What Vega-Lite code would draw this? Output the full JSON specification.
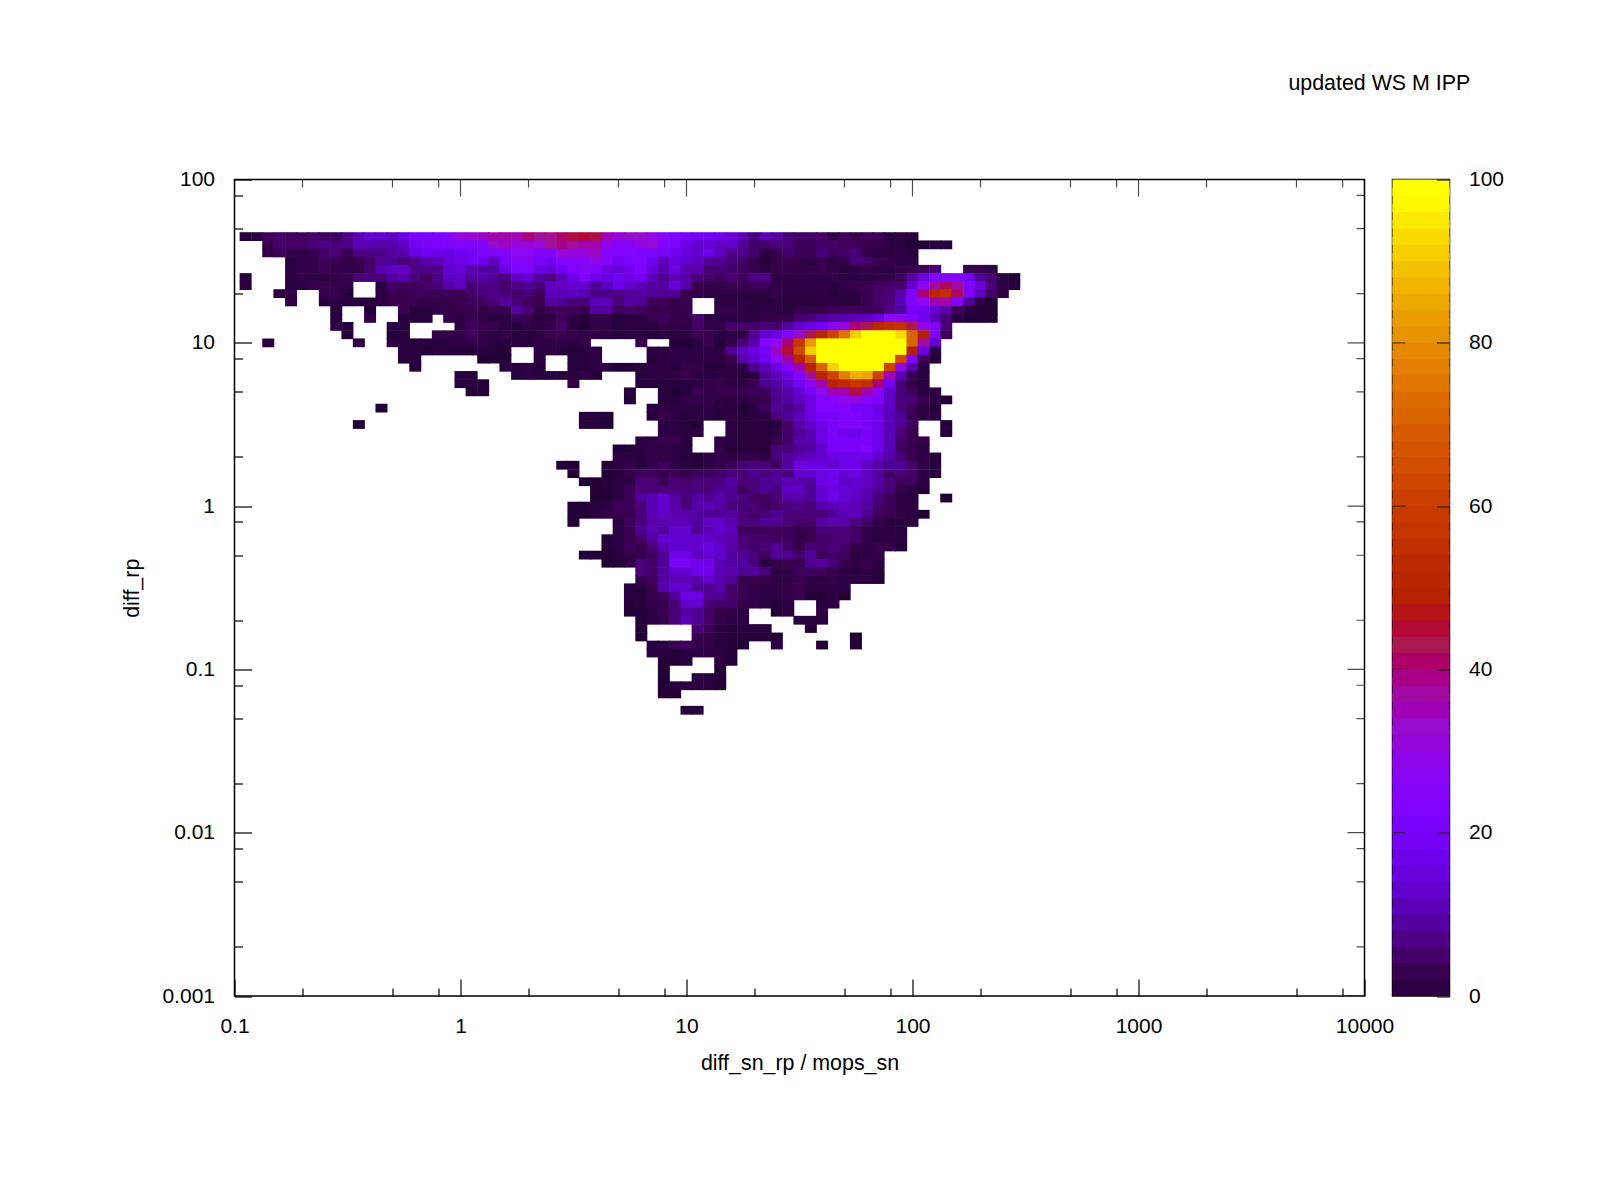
{"$schema":"https://vega.github.io/schema/vega-lite/v6.json","background":"white","padding":{"left":120.5,"top":72.5,"right":20,"bottom":20},"bounds":"flush","title":{"text":"updated WS M IPP","font":"Liberation Sans","fontSize":21.4,"fontWeight":"normal","color":"black","anchor":"end","dx":-34,"offset":73},"datasets":{"cells":[
{"x":0.112,"y":44.7,"v":2},{"x":0.126,"y":44.7,"v":3},{"x":0.141,"y":44.7,"v":6},{"x":0.158,"y":44.7,"v":7},{"x":0.178,"y":44.7,"v":6},{"x":0.2,"y":44.7,"v":6},{"x":0.224,"y":44.7,"v":7},{"x":0.251,"y":44.7,"v":6},{"x":0.282,"y":44.7,"v":6},{"x":0.316,"y":44.7,"v":9},{"x":0.355,"y":44.7,"v":13},{"x":0.398,"y":44.7,"v":15},{"x":0.447,"y":44.7,"v":15},{"x":0.501,"y":44.7,"v":14},{"x":0.562,"y":44.7,"v":18},{"x":0.631,"y":44.7,"v":23},{"x":0.708,"y":44.7,"v":23},{"x":0.794,"y":44.7,"v":23},{"x":0.891,"y":44.7,"v":26},{"x":1,"y":44.7,"v":33},{"x":1.12,"y":44.7,"v":34},{"x":1.26,"y":44.7,"v":36},{"x":1.41,"y":44.7,"v":38},{"x":1.58,"y":44.7,"v":38},{"x":1.78,"y":44.7,"v":37},{"x":2,"y":44.7,"v":42},{"x":2.24,"y":44.7,"v":40},{"x":2.51,"y":44.7,"v":40},{"x":2.82,"y":44.7,"v":43},{"x":3.16,"y":44.7,"v":46},{"x":3.55,"y":44.7,"v":47},{"x":3.98,"y":44.7,"v":46},{"x":4.47,"y":44.7,"v":37},{"x":5.01,"y":44.7,"v":33},{"x":5.62,"y":44.7,"v":35},{"x":6.31,"y":44.7,"v":35},{"x":7.08,"y":44.7,"v":32},{"x":7.94,"y":44.7,"v":28},{"x":8.91,"y":44.7,"v":24},{"x":10,"y":44.7,"v":22},{"x":11.2,"y":44.7,"v":21},{"x":12.6,"y":44.7,"v":21},{"x":14.1,"y":44.7,"v":19},{"x":15.8,"y":44.7,"v":17},{"x":17.8,"y":44.7,"v":13},{"x":20,"y":44.7,"v":8},{"x":22.4,"y":44.7,"v":13},{"x":25.1,"y":44.7,"v":11},{"x":28.2,"y":44.7,"v":8},{"x":31.6,"y":44.7,"v":7},{"x":35.5,"y":44.7,"v":7},{"x":39.8,"y":44.7,"v":7},{"x":44.7,"y":44.7,"v":4},{"x":50.1,"y":44.7,"v":6},{"x":56.2,"y":44.7,"v":5},{"x":63.1,"y":44.7,"v":6},{"x":70.8,"y":44.7,"v":6},{"x":79.4,"y":44.7,"v":3},{"x":89.1,"y":44.7,"v":3},{"x":100,"y":44.7,"v":2},
{"x":0.141,"y":39.8,"v":5},{"x":0.158,"y":39.8,"v":7},{"x":0.178,"y":39.8,"v":7},{"x":0.2,"y":39.8,"v":7},{"x":0.224,"y":39.8,"v":8},{"x":0.251,"y":39.8,"v":9},{"x":0.282,"y":39.8,"v":8},{"x":0.316,"y":39.8,"v":9},{"x":0.355,"y":39.8,"v":13},{"x":0.398,"y":39.8,"v":13},{"x":0.447,"y":39.8,"v":12},{"x":0.501,"y":39.8,"v":12},{"x":0.562,"y":39.8,"v":14},{"x":0.631,"y":39.8,"v":20},{"x":0.708,"y":39.8,"v":23},{"x":0.794,"y":39.8,"v":24},{"x":0.891,"y":39.8,"v":24},{"x":1,"y":39.8,"v":25},{"x":1.12,"y":39.8,"v":25},{"x":1.26,"y":39.8,"v":25},{"x":1.41,"y":39.8,"v":35},{"x":1.58,"y":39.8,"v":36},{"x":1.78,"y":39.8,"v":33},{"x":2,"y":39.8,"v":33},{"x":2.24,"y":39.8,"v":34},{"x":2.51,"y":39.8,"v":40},{"x":2.82,"y":39.8,"v":41},{"x":3.16,"y":39.8,"v":40},{"x":3.55,"y":39.8,"v":38},{"x":3.98,"y":39.8,"v":38},{"x":4.47,"y":39.8,"v":31},{"x":5.01,"y":39.8,"v":26},{"x":5.62,"y":39.8,"v":26},{"x":6.31,"y":39.8,"v":32},{"x":7.08,"y":39.8,"v":34},{"x":7.94,"y":39.8,"v":26},{"x":8.91,"y":39.8,"v":24},{"x":10,"y":39.8,"v":18},{"x":11.2,"y":39.8,"v":15},{"x":12.6,"y":39.8,"v":16},{"x":14.1,"y":39.8,"v":14},{"x":15.8,"y":39.8,"v":15},{"x":17.8,"y":39.8,"v":10},{"x":20,"y":39.8,"v":7},{"x":22.4,"y":39.8,"v":7},{"x":25.1,"y":39.8,"v":8},{"x":28.2,"y":39.8,"v":8},{"x":31.6,"y":39.8,"v":6},{"x":35.5,"y":39.8,"v":6},{"x":39.8,"y":39.8,"v":7},{"x":44.7,"y":39.8,"v":7},{"x":50.1,"y":39.8,"v":6},{"x":56.2,"y":39.8,"v":6},{"x":63.1,"y":39.8,"v":5},{"x":70.8,"y":39.8,"v":5},{"x":79.4,"y":39.8,"v":3},{"x":89.1,"y":39.8,"v":2},{"x":100,"y":39.8,"v":1},{"x":112,"y":39.8,"v":1},{"x":126,"y":39.8,"v":2},{"x":141,"y":39.8,"v":2},
{"x":0.141,"y":35.5,"v":4},{"x":0.158,"y":35.5,"v":5},{"x":0.178,"y":35.5,"v":5},{"x":0.2,"y":35.5,"v":4},{"x":0.224,"y":35.5,"v":5},{"x":0.251,"y":35.5,"v":7},{"x":0.282,"y":35.5,"v":8},{"x":0.316,"y":35.5,"v":5},{"x":0.355,"y":35.5,"v":9},{"x":0.398,"y":35.5,"v":9},{"x":0.447,"y":35.5,"v":9},{"x":0.501,"y":35.5,"v":11},{"x":0.562,"y":35.5,"v":12},{"x":0.631,"y":35.5,"v":18},{"x":0.708,"y":35.5,"v":20},{"x":0.794,"y":35.5,"v":19},{"x":0.891,"y":35.5,"v":18},{"x":1,"y":35.5,"v":20},{"x":1.12,"y":35.5,"v":21},{"x":1.26,"y":35.5,"v":24},{"x":1.41,"y":35.5,"v":24},{"x":1.58,"y":35.5,"v":25},{"x":1.78,"y":35.5,"v":30},{"x":2,"y":35.5,"v":30},{"x":2.24,"y":35.5,"v":25},{"x":2.51,"y":35.5,"v":26},{"x":2.82,"y":35.5,"v":34},{"x":3.16,"y":35.5,"v":33},{"x":3.55,"y":35.5,"v":33},{"x":3.98,"y":35.5,"v":36},{"x":4.47,"y":35.5,"v":26},{"x":5.01,"y":35.5,"v":25},{"x":5.62,"y":35.5,"v":25},{"x":6.31,"y":35.5,"v":24},{"x":7.08,"y":35.5,"v":24},{"x":7.94,"y":35.5,"v":22},{"x":8.91,"y":35.5,"v":20},{"x":10,"y":35.5,"v":17},{"x":11.2,"y":35.5,"v":15},{"x":12.6,"y":35.5,"v":18},{"x":14.1,"y":35.5,"v":14},{"x":15.8,"y":35.5,"v":9},{"x":17.8,"y":35.5,"v":9},{"x":20,"y":35.5,"v":7},{"x":22.4,"y":35.5,"v":3},{"x":25.1,"y":35.5,"v":5},{"x":28.2,"y":35.5,"v":7},{"x":31.6,"y":35.5,"v":6},{"x":35.5,"y":35.5,"v":6},{"x":39.8,"y":35.5,"v":8},{"x":44.7,"y":35.5,"v":6},{"x":50.1,"y":35.5,"v":7},{"x":56.2,"y":35.5,"v":8},{"x":63.1,"y":35.5,"v":4},{"x":70.8,"y":35.5,"v":3},{"x":79.4,"y":35.5,"v":3},{"x":89.1,"y":35.5,"v":3},{"x":100,"y":35.5,"v":2},
{"x":0.178,"y":31.6,"v":3},{"x":0.2,"y":31.6,"v":4},{"x":0.224,"y":31.6,"v":4},{"x":0.251,"y":31.6,"v":6},{"x":0.282,"y":31.6,"v":5},{"x":0.316,"y":31.6,"v":4},{"x":0.355,"y":31.6,"v":5},{"x":0.398,"y":31.6,"v":7},{"x":0.447,"y":31.6,"v":10},{"x":0.501,"y":31.6,"v":10},{"x":0.562,"y":31.6,"v":8},{"x":0.631,"y":31.6,"v":9},{"x":0.708,"y":31.6,"v":12},{"x":0.794,"y":31.6,"v":13},{"x":0.891,"y":31.6,"v":16},{"x":1,"y":31.6,"v":18},{"x":1.12,"y":31.6,"v":20},{"x":1.26,"y":31.6,"v":20},{"x":1.41,"y":31.6,"v":13},{"x":1.58,"y":31.6,"v":22},{"x":1.78,"y":31.6,"v":27},{"x":2,"y":31.6,"v":27},{"x":2.24,"y":31.6,"v":23},{"x":2.51,"y":31.6,"v":20},{"x":2.82,"y":31.6,"v":26},{"x":3.16,"y":31.6,"v":27},{"x":3.55,"y":31.6,"v":27},{"x":3.98,"y":31.6,"v":31},{"x":4.47,"y":31.6,"v":27},{"x":5.01,"y":31.6,"v":21},{"x":5.62,"y":31.6,"v":24},{"x":6.31,"y":31.6,"v":25},{"x":7.08,"y":31.6,"v":19},{"x":7.94,"y":31.6,"v":14},{"x":8.91,"y":31.6,"v":17},{"x":10,"y":31.6,"v":15},{"x":11.2,"y":31.6,"v":14},{"x":12.6,"y":31.6,"v":10},{"x":14.1,"y":31.6,"v":10},{"x":15.8,"y":31.6,"v":8},{"x":17.8,"y":31.6,"v":7},{"x":20,"y":31.6,"v":4},{"x":22.4,"y":31.6,"v":2},{"x":25.1,"y":31.6,"v":4},{"x":28.2,"y":31.6,"v":5},{"x":31.6,"y":31.6,"v":4},{"x":35.5,"y":31.6,"v":3},{"x":39.8,"y":31.6,"v":5},{"x":44.7,"y":31.6,"v":3},{"x":50.1,"y":31.6,"v":4},{"x":56.2,"y":31.6,"v":8},{"x":63.1,"y":31.6,"v":7},{"x":70.8,"y":31.6,"v":5},{"x":79.4,"y":31.6,"v":4},{"x":89.1,"y":31.6,"v":3},{"x":100,"y":31.6,"v":3},
{"x":0.178,"y":28.2,"v":3},{"x":0.2,"y":28.2,"v":4},{"x":0.224,"y":28.2,"v":4},{"x":0.251,"y":28.2,"v":6},{"x":0.282,"y":28.2,"v":4},{"x":0.316,"y":28.2,"v":4},{"x":0.355,"y":28.2,"v":4},{"x":0.398,"y":28.2,"v":7},{"x":0.447,"y":28.2,"v":12},{"x":0.501,"y":28.2,"v":14},{"x":0.562,"y":28.2,"v":14},{"x":0.631,"y":28.2,"v":9},{"x":0.708,"y":28.2,"v":9},{"x":0.794,"y":28.2,"v":9},{"x":0.891,"y":28.2,"v":15},{"x":1,"y":28.2,"v":17},{"x":1.12,"y":28.2,"v":12},{"x":1.26,"y":28.2,"v":11},{"x":1.41,"y":28.2,"v":11},{"x":1.58,"y":28.2,"v":18},{"x":1.78,"y":28.2,"v":24},{"x":2,"y":28.2,"v":26},{"x":2.24,"y":28.2,"v":18},{"x":2.51,"y":28.2,"v":16},{"x":2.82,"y":28.2,"v":20},{"x":3.16,"y":28.2,"v":25},{"x":3.55,"y":28.2,"v":27},{"x":3.98,"y":28.2,"v":25},{"x":4.47,"y":28.2,"v":18},{"x":5.01,"y":28.2,"v":16},{"x":5.62,"y":28.2,"v":19},{"x":6.31,"y":28.2,"v":24},{"x":7.08,"y":28.2,"v":17},{"x":7.94,"y":28.2,"v":12},{"x":8.91,"y":28.2,"v":18},{"x":10,"y":28.2,"v":12},{"x":11.2,"y":28.2,"v":12},{"x":12.6,"y":28.2,"v":8},{"x":14.1,"y":28.2,"v":8},{"x":15.8,"y":28.2,"v":7},{"x":17.8,"y":28.2,"v":6},{"x":20,"y":28.2,"v":5},{"x":22.4,"y":28.2,"v":3},{"x":25.1,"y":28.2,"v":4},{"x":28.2,"y":28.2,"v":4},{"x":31.6,"y":28.2,"v":4},{"x":35.5,"y":28.2,"v":4},{"x":39.8,"y":28.2,"v":5},{"x":44.7,"y":28.2,"v":4},{"x":50.1,"y":28.2,"v":2},{"x":56.2,"y":28.2,"v":3},{"x":63.1,"y":28.2,"v":4},{"x":70.8,"y":28.2,"v":3},{"x":79.4,"y":28.2,"v":3},{"x":89.1,"y":28.2,"v":4},{"x":100,"y":28.2,"v":5},{"x":112,"y":28.2,"v":6},{"x":126,"y":28.2,"v":8},{"x":178,"y":28.2,"v":5},{"x":200,"y":28.2,"v":5},{"x":224,"y":28.2,"v":3},
{"x":0.112,"y":25.1,"v":2},{"x":0.178,"y":25.1,"v":2},{"x":0.2,"y":25.1,"v":4},{"x":0.224,"y":25.1,"v":3},{"x":0.251,"y":25.1,"v":3},{"x":0.282,"y":25.1,"v":4},{"x":0.316,"y":25.1,"v":5},{"x":0.355,"y":25.1,"v":8},{"x":0.398,"y":25.1,"v":8},{"x":0.447,"y":25.1,"v":8},{"x":0.501,"y":25.1,"v":11},{"x":0.562,"y":25.1,"v":12},{"x":0.631,"y":25.1,"v":8},{"x":0.708,"y":25.1,"v":6},{"x":0.794,"y":25.1,"v":9},{"x":0.891,"y":25.1,"v":14},{"x":1,"y":25.1,"v":14},{"x":1.12,"y":25.1,"v":11},{"x":1.26,"y":25.1,"v":12},{"x":1.41,"y":25.1,"v":10},{"x":1.58,"y":25.1,"v":8},{"x":1.78,"y":25.1,"v":14},{"x":2,"y":25.1,"v":16},{"x":2.24,"y":25.1,"v":11},{"x":2.51,"y":25.1,"v":9},{"x":2.82,"y":25.1,"v":13},{"x":3.16,"y":25.1,"v":19},{"x":3.55,"y":25.1,"v":24},{"x":3.98,"y":25.1,"v":19},{"x":4.47,"y":25.1,"v":18},{"x":5.01,"y":25.1,"v":20},{"x":5.62,"y":25.1,"v":18},{"x":6.31,"y":25.1,"v":21},{"x":7.08,"y":25.1,"v":13},{"x":7.94,"y":25.1,"v":10},{"x":8.91,"y":25.1,"v":13},{"x":10,"y":25.1,"v":12},{"x":11.2,"y":25.1,"v":8},{"x":12.6,"y":25.1,"v":7},{"x":14.1,"y":25.1,"v":6},{"x":15.8,"y":25.1,"v":8},{"x":17.8,"y":25.1,"v":6},{"x":20,"y":25.1,"v":9},{"x":22.4,"y":25.1,"v":9},{"x":25.1,"y":25.1,"v":3},{"x":28.2,"y":25.1,"v":3},{"x":31.6,"y":25.1,"v":3},{"x":35.5,"y":25.1,"v":3},{"x":39.8,"y":25.1,"v":3},{"x":44.7,"y":25.1,"v":4},{"x":50.1,"y":25.1,"v":3},{"x":56.2,"y":25.1,"v":3},{"x":63.1,"y":25.1,"v":3},{"x":70.8,"y":25.1,"v":4},{"x":79.4,"y":25.1,"v":4},{"x":89.1,"y":25.1,"v":6},{"x":100,"y":25.1,"v":11},{"x":112,"y":25.1,"v":18},{"x":126,"y":25.1,"v":25},{"x":141,"y":25.1,"v":25},{"x":158,"y":25.1,"v":25},{"x":178,"y":25.1,"v":20},{"x":200,"y":25.1,"v":10},{"x":224,"y":25.1,"v":8},{"x":251,"y":25.1,"v":2},{"x":282,"y":25.1,"v":1},
{"x":0.112,"y":22.4,"v":2},{"x":0.178,"y":22.4,"v":2},{"x":0.2,"y":22.4,"v":3},{"x":0.224,"y":22.4,"v":5},{"x":0.251,"y":22.4,"v":5},{"x":0.282,"y":22.4,"v":5},{"x":0.316,"y":22.4,"v":5},{"x":0.447,"y":22.4,"v":3},{"x":0.501,"y":22.4,"v":7},{"x":0.562,"y":22.4,"v":6},{"x":0.631,"y":22.4,"v":6},{"x":0.708,"y":22.4,"v":7},{"x":0.794,"y":22.4,"v":8},{"x":0.891,"y":22.4,"v":11},{"x":1,"y":22.4,"v":14},{"x":1.12,"y":22.4,"v":8},{"x":1.26,"y":22.4,"v":9},{"x":1.41,"y":22.4,"v":9},{"x":1.58,"y":22.4,"v":7},{"x":1.78,"y":22.4,"v":9},{"x":2,"y":22.4,"v":10},{"x":2.24,"y":22.4,"v":8},{"x":2.51,"y":22.4,"v":14},{"x":2.82,"y":22.4,"v":14},{"x":3.16,"y":22.4,"v":15},{"x":3.55,"y":22.4,"v":15},{"x":3.98,"y":22.4,"v":10},{"x":4.47,"y":22.4,"v":14},{"x":5.01,"y":22.4,"v":19},{"x":5.62,"y":22.4,"v":15},{"x":6.31,"y":22.4,"v":13},{"x":7.08,"y":22.4,"v":11},{"x":7.94,"y":22.4,"v":11},{"x":8.91,"y":22.4,"v":17},{"x":10,"y":22.4,"v":12},{"x":11.2,"y":22.4,"v":5},{"x":12.6,"y":22.4,"v":4},{"x":14.1,"y":22.4,"v":4},{"x":15.8,"y":22.4,"v":5},{"x":17.8,"y":22.4,"v":5},{"x":20,"y":22.4,"v":6},{"x":22.4,"y":22.4,"v":6},{"x":25.1,"y":22.4,"v":4},{"x":28.2,"y":22.4,"v":3},{"x":31.6,"y":22.4,"v":3},{"x":35.5,"y":22.4,"v":3},{"x":39.8,"y":22.4,"v":3},{"x":44.7,"y":22.4,"v":3},{"x":50.1,"y":22.4,"v":4},{"x":56.2,"y":22.4,"v":5},{"x":63.1,"y":22.4,"v":5},{"x":70.8,"y":22.4,"v":6},{"x":79.4,"y":22.4,"v":7},{"x":89.1,"y":22.4,"v":7},{"x":100,"y":22.4,"v":15},{"x":112,"y":22.4,"v":29},{"x":126,"y":22.4,"v":39},{"x":141,"y":22.4,"v":44},{"x":158,"y":22.4,"v":39},{"x":178,"y":22.4,"v":25},{"x":200,"y":22.4,"v":17},{"x":224,"y":22.4,"v":8},{"x":251,"y":22.4,"v":3},{"x":282,"y":22.4,"v":2},
{"x":0.158,"y":20,"v":3},{"x":0.178,"y":20,"v":4},{"x":0.251,"y":20,"v":5},{"x":0.282,"y":20,"v":5},{"x":0.316,"y":20,"v":2},{"x":0.447,"y":20,"v":3},{"x":0.501,"y":20,"v":5},{"x":0.562,"y":20,"v":5},{"x":0.631,"y":20,"v":6},{"x":0.708,"y":20,"v":6},{"x":0.794,"y":20,"v":6},{"x":0.891,"y":20,"v":6},{"x":1,"y":20,"v":5},{"x":1.12,"y":20,"v":7},{"x":1.26,"y":20,"v":8},{"x":1.41,"y":20,"v":9},{"x":1.58,"y":20,"v":8},{"x":1.78,"y":20,"v":7},{"x":2,"y":20,"v":8},{"x":2.24,"y":20,"v":6},{"x":2.51,"y":20,"v":13},{"x":2.82,"y":20,"v":13},{"x":3.16,"y":20,"v":14},{"x":3.55,"y":20,"v":13},{"x":3.98,"y":20,"v":9},{"x":4.47,"y":20,"v":9},{"x":5.01,"y":20,"v":9},{"x":5.62,"y":20,"v":10},{"x":6.31,"y":20,"v":11},{"x":7.08,"y":20,"v":10},{"x":7.94,"y":20,"v":10},{"x":8.91,"y":20,"v":10},{"x":10,"y":20,"v":5},{"x":11.2,"y":20,"v":4},{"x":12.6,"y":20,"v":3},{"x":14.1,"y":20,"v":3},{"x":15.8,"y":20,"v":3},{"x":17.8,"y":20,"v":3},{"x":20,"y":20,"v":3},{"x":22.4,"y":20,"v":3},{"x":25.1,"y":20,"v":4},{"x":28.2,"y":20,"v":3},{"x":31.6,"y":20,"v":2},{"x":35.5,"y":20,"v":3},{"x":39.8,"y":20,"v":3},{"x":44.7,"y":20,"v":2},{"x":50.1,"y":20,"v":3},{"x":56.2,"y":20,"v":3},{"x":63.1,"y":20,"v":5},{"x":70.8,"y":20,"v":7},{"x":79.4,"y":20,"v":8},{"x":89.1,"y":20,"v":12},{"x":100,"y":20,"v":25},{"x":112,"y":20,"v":42},{"x":126,"y":20,"v":53},{"x":141,"y":20,"v":57},{"x":158,"y":20,"v":44},{"x":178,"y":20,"v":25},{"x":200,"y":20,"v":14},{"x":224,"y":20,"v":7},{"x":251,"y":20,"v":3},
{"x":0.178,"y":17.8,"v":3},{"x":0.251,"y":17.8,"v":2},{"x":0.282,"y":17.8,"v":3},{"x":0.316,"y":17.8,"v":2},{"x":0.355,"y":17.8,"v":2},{"x":0.398,"y":17.8,"v":2},{"x":0.447,"y":17.8,"v":3},{"x":0.501,"y":17.8,"v":4},{"x":0.562,"y":17.8,"v":5},{"x":0.631,"y":17.8,"v":5},{"x":0.708,"y":17.8,"v":4},{"x":0.794,"y":17.8,"v":4},{"x":0.891,"y":17.8,"v":4},{"x":1,"y":17.8,"v":5},{"x":1.12,"y":17.8,"v":6},{"x":1.26,"y":17.8,"v":6},{"x":1.41,"y":17.8,"v":8},{"x":1.58,"y":17.8,"v":11},{"x":1.78,"y":17.8,"v":8},{"x":2,"y":17.8,"v":6},{"x":2.24,"y":17.8,"v":5},{"x":2.51,"y":17.8,"v":11},{"x":2.82,"y":17.8,"v":10},{"x":3.16,"y":17.8,"v":8},{"x":3.55,"y":17.8,"v":8},{"x":3.98,"y":17.8,"v":13},{"x":4.47,"y":17.8,"v":13},{"x":5.01,"y":17.8,"v":8},{"x":5.62,"y":17.8,"v":11},{"x":6.31,"y":17.8,"v":10},{"x":7.08,"y":17.8,"v":6},{"x":7.94,"y":17.8,"v":6},{"x":8.91,"y":17.8,"v":4},{"x":10,"y":17.8,"v":5},{"x":14.1,"y":17.8,"v":3},{"x":15.8,"y":17.8,"v":3},{"x":17.8,"y":17.8,"v":3},{"x":20,"y":17.8,"v":2},{"x":22.4,"y":17.8,"v":2},{"x":25.1,"y":17.8,"v":3},{"x":28.2,"y":17.8,"v":2},{"x":31.6,"y":17.8,"v":2},{"x":35.5,"y":17.8,"v":1},{"x":39.8,"y":17.8,"v":3},{"x":44.7,"y":17.8,"v":3},{"x":50.1,"y":17.8,"v":2},{"x":56.2,"y":17.8,"v":2},{"x":63.1,"y":17.8,"v":5},{"x":70.8,"y":17.8,"v":7},{"x":79.4,"y":17.8,"v":8},{"x":89.1,"y":17.8,"v":13},{"x":100,"y":17.8,"v":25},{"x":112,"y":17.8,"v":30},{"x":126,"y":17.8,"v":38},{"x":141,"y":17.8,"v":38},{"x":158,"y":17.8,"v":25},{"x":178,"y":17.8,"v":10},{"x":200,"y":17.8,"v":3},{"x":224,"y":17.8,"v":1},
{"x":0.282,"y":15.8,"v":2},{"x":0.398,"y":15.8,"v":1},{"x":0.562,"y":15.8,"v":5},{"x":0.631,"y":15.8,"v":2},{"x":0.708,"y":15.8,"v":2},{"x":0.794,"y":15.8,"v":4},{"x":0.891,"y":15.8,"v":4},{"x":1,"y":15.8,"v":5},{"x":1.12,"y":15.8,"v":5},{"x":1.26,"y":15.8,"v":4},{"x":1.41,"y":15.8,"v":5},{"x":1.58,"y":15.8,"v":5},{"x":1.78,"y":15.8,"v":11},{"x":2,"y":15.8,"v":8},{"x":2.24,"y":15.8,"v":4},{"x":2.51,"y":15.8,"v":6},{"x":2.82,"y":15.8,"v":6},{"x":3.16,"y":15.8,"v":6},{"x":3.55,"y":15.8,"v":5},{"x":3.98,"y":15.8,"v":11},{"x":4.47,"y":15.8,"v":11},{"x":5.01,"y":15.8,"v":6},{"x":5.62,"y":15.8,"v":7},{"x":6.31,"y":15.8,"v":6},{"x":7.08,"y":15.8,"v":5},{"x":7.94,"y":15.8,"v":5},{"x":8.91,"y":15.8,"v":4},{"x":10,"y":15.8,"v":5},{"x":14.1,"y":15.8,"v":4},{"x":15.8,"y":15.8,"v":4},{"x":17.8,"y":15.8,"v":3},{"x":20,"y":15.8,"v":2},{"x":22.4,"y":15.8,"v":3},{"x":25.1,"y":15.8,"v":3},{"x":28.2,"y":15.8,"v":2},{"x":31.6,"y":15.8,"v":5},{"x":35.5,"y":15.8,"v":4},{"x":39.8,"y":15.8,"v":4},{"x":44.7,"y":15.8,"v":6},{"x":50.1,"y":15.8,"v":6},{"x":56.2,"y":15.8,"v":6},{"x":63.1,"y":15.8,"v":6},{"x":70.8,"y":15.8,"v":6},{"x":79.4,"y":15.8,"v":9},{"x":89.1,"y":15.8,"v":11},{"x":100,"y":15.8,"v":22},{"x":112,"y":15.8,"v":20},{"x":126,"y":15.8,"v":16},{"x":141,"y":15.8,"v":12},{"x":158,"y":15.8,"v":6},{"x":178,"y":15.8,"v":3},{"x":200,"y":15.8,"v":1},{"x":224,"y":15.8,"v":0.5},
{"x":0.282,"y":14.1,"v":2},{"x":0.398,"y":14.1,"v":4},{"x":0.562,"y":14.1,"v":2},{"x":0.631,"y":14.1,"v":2},{"x":0.708,"y":14.1,"v":2},{"x":0.891,"y":14.1,"v":4},{"x":1,"y":14.1,"v":3},{"x":1.12,"y":14.1,"v":5},{"x":1.26,"y":14.1,"v":4},{"x":1.41,"y":14.1,"v":3},{"x":1.58,"y":14.1,"v":3},{"x":1.78,"y":14.1,"v":6},{"x":2,"y":14.1,"v":5},{"x":2.24,"y":14.1,"v":3},{"x":2.51,"y":14.1,"v":3},{"x":2.82,"y":14.1,"v":6},{"x":3.16,"y":14.1,"v":3},{"x":3.55,"y":14.1,"v":2},{"x":3.98,"y":14.1,"v":4},{"x":4.47,"y":14.1,"v":4},{"x":5.01,"y":14.1,"v":2},{"x":5.62,"y":14.1,"v":2},{"x":6.31,"y":14.1,"v":3},{"x":7.08,"y":14.1,"v":5},{"x":7.94,"y":14.1,"v":6},{"x":8.91,"y":14.1,"v":4},{"x":10,"y":14.1,"v":4},{"x":11.2,"y":14.1,"v":7},{"x":12.6,"y":14.1,"v":3},{"x":14.1,"y":14.1,"v":3},{"x":15.8,"y":14.1,"v":3},{"x":17.8,"y":14.1,"v":3},{"x":20,"y":14.1,"v":3},{"x":22.4,"y":14.1,"v":4},{"x":25.1,"y":14.1,"v":4},{"x":28.2,"y":14.1,"v":4},{"x":31.6,"y":14.1,"v":7},{"x":35.5,"y":14.1,"v":8},{"x":39.8,"y":14.1,"v":10},{"x":44.7,"y":14.1,"v":11},{"x":50.1,"y":14.1,"v":12},{"x":56.2,"y":14.1,"v":13},{"x":63.1,"y":14.1,"v":14},{"x":70.8,"y":14.1,"v":18},{"x":79.4,"y":14.1,"v":30},{"x":89.1,"y":14.1,"v":30},{"x":100,"y":14.1,"v":25},{"x":112,"y":14.1,"v":20},{"x":126,"y":14.1,"v":13},{"x":141,"y":14.1,"v":8},{"x":158,"y":14.1,"v":3},{"x":178,"y":14.1,"v":1},{"x":200,"y":14.1,"v":1},{"x":224,"y":14.1,"v":0.5},
{"x":0.282,"y":12.6,"v":3},{"x":0.316,"y":12.6,"v":2},{"x":0.501,"y":12.6,"v":3},{"x":0.562,"y":12.6,"v":2},{"x":1,"y":12.6,"v":3},{"x":1.12,"y":12.6,"v":6},{"x":1.26,"y":12.6,"v":5},{"x":1.41,"y":12.6,"v":5},{"x":1.58,"y":12.6,"v":3},{"x":1.78,"y":12.6,"v":2},{"x":2,"y":12.6,"v":4},{"x":2.24,"y":12.6,"v":3},{"x":2.51,"y":12.6,"v":5},{"x":2.82,"y":12.6,"v":7},{"x":3.16,"y":12.6,"v":3},{"x":3.55,"y":12.6,"v":1},{"x":3.98,"y":12.6,"v":4},{"x":4.47,"y":12.6,"v":4},{"x":5.01,"y":12.6,"v":2},{"x":5.62,"y":12.6,"v":3},{"x":6.31,"y":12.6,"v":3},{"x":7.08,"y":12.6,"v":2},{"x":7.94,"y":12.6,"v":4},{"x":8.91,"y":12.6,"v":4},{"x":10,"y":12.6,"v":3},{"x":11.2,"y":12.6,"v":7},{"x":12.6,"y":12.6,"v":4},{"x":14.1,"y":12.6,"v":4},{"x":15.8,"y":12.6,"v":7},{"x":17.8,"y":12.6,"v":7},{"x":20,"y":12.6,"v":7},{"x":22.4,"y":12.6,"v":8},{"x":25.1,"y":12.6,"v":7},{"x":28.2,"y":12.6,"v":11},{"x":31.6,"y":12.6,"v":15},{"x":35.5,"y":12.6,"v":18},{"x":39.8,"y":12.6,"v":21},{"x":44.7,"y":12.6,"v":29},{"x":50.1,"y":12.6,"v":33},{"x":56.2,"y":12.6,"v":42},{"x":63.1,"y":12.6,"v":45},{"x":70.8,"y":12.6,"v":54},{"x":79.4,"y":12.6,"v":57},{"x":89.1,"y":12.6,"v":57},{"x":100,"y":12.6,"v":45},{"x":112,"y":12.6,"v":32},{"x":126,"y":12.6,"v":25},{"x":141,"y":12.6,"v":8},
{"x":0.316,"y":11.2,"v":2},{"x":0.501,"y":11.2,"v":2},{"x":0.562,"y":11.2,"v":2},{"x":0.794,"y":11.2,"v":4},{"x":0.891,"y":11.2,"v":4},{"x":1,"y":11.2,"v":4},{"x":1.12,"y":11.2,"v":6},{"x":1.26,"y":11.2,"v":4},{"x":1.41,"y":11.2,"v":3},{"x":1.58,"y":11.2,"v":4},{"x":1.78,"y":11.2,"v":2},{"x":2,"y":11.2,"v":2},{"x":2.24,"y":11.2,"v":3},{"x":2.51,"y":11.2,"v":5},{"x":2.82,"y":11.2,"v":5},{"x":3.16,"y":11.2,"v":4},{"x":3.55,"y":11.2,"v":4},{"x":3.98,"y":11.2,"v":3},{"x":4.47,"y":11.2,"v":3},{"x":5.01,"y":11.2,"v":2},{"x":5.62,"y":11.2,"v":3},{"x":6.31,"y":11.2,"v":3},{"x":7.08,"y":11.2,"v":2},{"x":7.94,"y":11.2,"v":3},{"x":8.91,"y":11.2,"v":2},{"x":10,"y":11.2,"v":3},{"x":11.2,"y":11.2,"v":5},{"x":12.6,"y":11.2,"v":5},{"x":14.1,"y":11.2,"v":3},{"x":15.8,"y":11.2,"v":3},{"x":17.8,"y":11.2,"v":3},{"x":20,"y":11.2,"v":10},{"x":22.4,"y":11.2,"v":15},{"x":25.1,"y":11.2,"v":18},{"x":28.2,"y":11.2,"v":25},{"x":31.6,"y":11.2,"v":35},{"x":35.5,"y":11.2,"v":45},{"x":39.8,"y":11.2,"v":54},{"x":44.7,"y":11.2,"v":64},{"x":50.1,"y":11.2,"v":76},{"x":56.2,"y":11.2,"v":93},{"x":63.1,"y":11.2,"v":100},{"x":70.8,"y":11.2,"v":100},{"x":79.4,"y":11.2,"v":100},{"x":89.1,"y":11.2,"v":95},{"x":100,"y":11.2,"v":73},{"x":112,"y":11.2,"v":50},{"x":126,"y":11.2,"v":25},{"x":141,"y":11.2,"v":6},
{"x":0.141,"y":10,"v":2},{"x":0.355,"y":10,"v":3},{"x":0.501,"y":10,"v":3},{"x":0.562,"y":10,"v":2},{"x":0.631,"y":10,"v":2},{"x":0.708,"y":10,"v":3},{"x":0.794,"y":10,"v":2},{"x":0.891,"y":10,"v":3},{"x":1,"y":10,"v":3},{"x":1.12,"y":10,"v":4},{"x":1.26,"y":10,"v":4},{"x":1.41,"y":10,"v":2},{"x":1.58,"y":10,"v":2},{"x":1.78,"y":10,"v":2},{"x":2,"y":10,"v":2},{"x":2.24,"y":10,"v":3},{"x":2.51,"y":10,"v":4},{"x":2.82,"y":10,"v":4},{"x":3.16,"y":10,"v":3},{"x":3.55,"y":10,"v":4},{"x":6.31,"y":10,"v":5},{"x":8.91,"y":10,"v":2},{"x":10,"y":10,"v":1},{"x":11.2,"y":10,"v":3},{"x":12.6,"y":10,"v":5},{"x":14.1,"y":10,"v":2},{"x":15.8,"y":10,"v":4},{"x":17.8,"y":10,"v":8},{"x":20,"y":10,"v":12},{"x":22.4,"y":10,"v":25},{"x":25.1,"y":10,"v":30},{"x":28.2,"y":10,"v":42},{"x":31.6,"y":10,"v":60},{"x":35.5,"y":10,"v":84},{"x":39.8,"y":10,"v":100},{"x":44.7,"y":10,"v":100},{"x":50.1,"y":10,"v":100},{"x":56.2,"y":10,"v":100},{"x":63.1,"y":10,"v":100},{"x":70.8,"y":10,"v":100},{"x":79.4,"y":10,"v":100},{"x":89.1,"y":10,"v":100},{"x":100,"y":10,"v":73},{"x":112,"y":10,"v":39},{"x":126,"y":10,"v":15},
{"x":0.562,"y":8.91,"v":2},{"x":0.631,"y":8.91,"v":2},{"x":0.708,"y":8.91,"v":1},{"x":0.794,"y":8.91,"v":2},{"x":0.891,"y":8.91,"v":2},{"x":1,"y":8.91,"v":2},{"x":1.12,"y":8.91,"v":1},{"x":1.26,"y":8.91,"v":3},{"x":1.41,"y":8.91,"v":2},{"x":1.58,"y":8.91,"v":1},{"x":2.24,"y":8.91,"v":3},{"x":2.51,"y":8.91,"v":3},{"x":2.82,"y":8.91,"v":2},{"x":3.16,"y":8.91,"v":1},{"x":3.55,"y":8.91,"v":2},{"x":3.98,"y":8.91,"v":3},{"x":7.08,"y":8.91,"v":3},{"x":7.94,"y":8.91,"v":3},{"x":8.91,"y":8.91,"v":3},{"x":10,"y":8.91,"v":3},{"x":11.2,"y":8.91,"v":3},{"x":12.6,"y":8.91,"v":3},{"x":14.1,"y":8.91,"v":3},{"x":15.8,"y":8.91,"v":10},{"x":17.8,"y":8.91,"v":14},{"x":20,"y":8.91,"v":18},{"x":22.4,"y":8.91,"v":22},{"x":25.1,"y":8.91,"v":36},{"x":28.2,"y":8.91,"v":48},{"x":31.6,"y":8.91,"v":66},{"x":35.5,"y":8.91,"v":93},{"x":39.8,"y":8.91,"v":100},{"x":44.7,"y":8.91,"v":100},{"x":50.1,"y":8.91,"v":100},{"x":56.2,"y":8.91,"v":100},{"x":63.1,"y":8.91,"v":100},{"x":70.8,"y":8.91,"v":100},{"x":79.4,"y":8.91,"v":100},{"x":89.1,"y":8.91,"v":100},{"x":100,"y":8.91,"v":50},{"x":112,"y":8.91,"v":18},{"x":126,"y":8.91,"v":3},
{"x":0.562,"y":7.94,"v":2},{"x":0.631,"y":7.94,"v":2},{"x":1.26,"y":7.94,"v":1},{"x":1.41,"y":7.94,"v":1},{"x":1.58,"y":7.94,"v":1},{"x":2.24,"y":7.94,"v":3},{"x":3.16,"y":7.94,"v":2},{"x":3.55,"y":7.94,"v":2},{"x":3.98,"y":7.94,"v":3},{"x":7.08,"y":7.94,"v":2},{"x":7.94,"y":7.94,"v":3},{"x":8.91,"y":7.94,"v":3},{"x":10,"y":7.94,"v":3},{"x":11.2,"y":7.94,"v":3},{"x":12.6,"y":7.94,"v":3},{"x":14.1,"y":7.94,"v":3},{"x":15.8,"y":7.94,"v":5},{"x":17.8,"y":7.94,"v":12},{"x":20,"y":7.94,"v":16},{"x":22.4,"y":7.94,"v":20},{"x":25.1,"y":7.94,"v":30},{"x":28.2,"y":7.94,"v":38},{"x":31.6,"y":7.94,"v":52},{"x":35.5,"y":7.94,"v":71},{"x":39.8,"y":7.94,"v":100},{"x":44.7,"y":7.94,"v":100},{"x":50.1,"y":7.94,"v":100},{"x":56.2,"y":7.94,"v":100},{"x":63.1,"y":7.94,"v":100},{"x":70.8,"y":7.94,"v":100},{"x":79.4,"y":7.94,"v":100},{"x":89.1,"y":7.94,"v":66},{"x":100,"y":7.94,"v":25},{"x":112,"y":7.94,"v":6},{"x":126,"y":7.94,"v":1},
{"x":0.631,"y":7.08,"v":2},{"x":1.58,"y":7.08,"v":3},{"x":1.78,"y":7.08,"v":2},{"x":2,"y":7.08,"v":3},{"x":2.24,"y":7.08,"v":2},{"x":3.16,"y":7.08,"v":2},{"x":3.55,"y":7.08,"v":2},{"x":3.98,"y":7.08,"v":3},{"x":4.47,"y":7.08,"v":3},{"x":5.01,"y":7.08,"v":1},{"x":5.62,"y":7.08,"v":1},{"x":6.31,"y":7.08,"v":2},{"x":7.08,"y":7.08,"v":3},{"x":7.94,"y":7.08,"v":3},{"x":8.91,"y":7.08,"v":2},{"x":10,"y":7.08,"v":4},{"x":11.2,"y":7.08,"v":4},{"x":12.6,"y":7.08,"v":2},{"x":14.1,"y":7.08,"v":2},{"x":15.8,"y":7.08,"v":3},{"x":17.8,"y":7.08,"v":3},{"x":20,"y":7.08,"v":10},{"x":22.4,"y":7.08,"v":13},{"x":25.1,"y":7.08,"v":18},{"x":28.2,"y":7.08,"v":25},{"x":31.6,"y":7.08,"v":37},{"x":35.5,"y":7.08,"v":52},{"x":39.8,"y":7.08,"v":73},{"x":44.7,"y":7.08,"v":93},{"x":50.1,"y":7.08,"v":100},{"x":56.2,"y":7.08,"v":100},{"x":63.1,"y":7.08,"v":100},{"x":70.8,"y":7.08,"v":100},{"x":79.4,"y":7.08,"v":64},{"x":89.1,"y":7.08,"v":32},{"x":100,"y":7.08,"v":12},{"x":112,"y":7.08,"v":2},
{"x":1,"y":6.31,"v":2},{"x":1.12,"y":6.31,"v":2},{"x":1.78,"y":6.31,"v":2},{"x":2,"y":6.31,"v":3},{"x":2.24,"y":6.31,"v":2},{"x":2.51,"y":6.31,"v":2},{"x":2.82,"y":6.31,"v":2},{"x":3.16,"y":6.31,"v":2},{"x":3.55,"y":6.31,"v":3},{"x":3.98,"y":6.31,"v":1},{"x":6.31,"y":6.31,"v":2},{"x":7.08,"y":6.31,"v":3},{"x":7.94,"y":6.31,"v":3},{"x":8.91,"y":6.31,"v":3},{"x":10,"y":6.31,"v":5},{"x":11.2,"y":6.31,"v":3},{"x":12.6,"y":6.31,"v":2},{"x":14.1,"y":6.31,"v":3},{"x":15.8,"y":6.31,"v":3},{"x":17.8,"y":6.31,"v":2},{"x":20,"y":6.31,"v":3},{"x":22.4,"y":6.31,"v":10},{"x":25.1,"y":6.31,"v":13},{"x":28.2,"y":6.31,"v":18},{"x":31.6,"y":6.31,"v":25},{"x":35.5,"y":6.31,"v":40},{"x":39.8,"y":6.31,"v":52},{"x":44.7,"y":6.31,"v":64},{"x":50.1,"y":6.31,"v":79},{"x":56.2,"y":6.31,"v":88},{"x":63.1,"y":6.31,"v":86},{"x":70.8,"y":6.31,"v":64},{"x":79.4,"y":6.31,"v":37},{"x":89.1,"y":6.31,"v":13},{"x":100,"y":6.31,"v":5},{"x":112,"y":6.31,"v":2},
{"x":1,"y":5.62,"v":2},{"x":1.12,"y":5.62,"v":2},{"x":1.26,"y":5.62,"v":1},{"x":3.16,"y":5.62,"v":4},{"x":6.31,"y":5.62,"v":2},{"x":7.08,"y":5.62,"v":2},{"x":7.94,"y":5.62,"v":2},{"x":8.91,"y":5.62,"v":2},{"x":10,"y":5.62,"v":2},{"x":11.2,"y":5.62,"v":3},{"x":12.6,"y":5.62,"v":4},{"x":14.1,"y":5.62,"v":4},{"x":15.8,"y":5.62,"v":3},{"x":17.8,"y":5.62,"v":3},{"x":20,"y":5.62,"v":5},{"x":22.4,"y":5.62,"v":10},{"x":25.1,"y":5.62,"v":11},{"x":28.2,"y":5.62,"v":15},{"x":31.6,"y":5.62,"v":21},{"x":35.5,"y":5.62,"v":30},{"x":39.8,"y":5.62,"v":38},{"x":44.7,"y":5.62,"v":52},{"x":50.1,"y":5.62,"v":55},{"x":56.2,"y":5.62,"v":60},{"x":63.1,"y":5.62,"v":57},{"x":70.8,"y":5.62,"v":42},{"x":79.4,"y":5.62,"v":21},{"x":89.1,"y":5.62,"v":8},{"x":100,"y":5.62,"v":4},{"x":112,"y":5.62,"v":2},
{"x":1.12,"y":5.01,"v":1},{"x":1.26,"y":5.01,"v":1},{"x":5.62,"y":5.01,"v":2},{"x":7.94,"y":5.01,"v":2},{"x":8.91,"y":5.01,"v":1},{"x":10,"y":5.01,"v":2},{"x":11.2,"y":5.01,"v":5},{"x":12.6,"y":5.01,"v":4},{"x":14.1,"y":5.01,"v":5},{"x":15.8,"y":5.01,"v":5},{"x":17.8,"y":5.01,"v":5},{"x":20,"y":5.01,"v":6},{"x":22.4,"y":5.01,"v":6},{"x":25.1,"y":5.01,"v":10},{"x":28.2,"y":5.01,"v":12},{"x":31.6,"y":5.01,"v":15},{"x":35.5,"y":5.01,"v":22},{"x":39.8,"y":5.01,"v":30},{"x":44.7,"y":5.01,"v":37},{"x":50.1,"y":5.01,"v":38},{"x":56.2,"y":5.01,"v":46},{"x":63.1,"y":5.01,"v":38},{"x":70.8,"y":5.01,"v":28},{"x":79.4,"y":5.01,"v":15},{"x":89.1,"y":5.01,"v":8},{"x":100,"y":5.01,"v":6},{"x":112,"y":5.01,"v":2},{"x":126,"y":5.01,"v":3},
{"x":5.62,"y":4.47,"v":2},{"x":7.94,"y":4.47,"v":2},{"x":8.91,"y":4.47,"v":2},{"x":10,"y":4.47,"v":4},{"x":11.2,"y":4.47,"v":4},{"x":12.6,"y":4.47,"v":4},{"x":14.1,"y":4.47,"v":3},{"x":15.8,"y":4.47,"v":3},{"x":17.8,"y":4.47,"v":3},{"x":20,"y":4.47,"v":4},{"x":22.4,"y":4.47,"v":5},{"x":25.1,"y":4.47,"v":9},{"x":28.2,"y":4.47,"v":11},{"x":31.6,"y":4.47,"v":14},{"x":35.5,"y":4.47,"v":18},{"x":39.8,"y":4.47,"v":25},{"x":44.7,"y":4.47,"v":27},{"x":50.1,"y":4.47,"v":30},{"x":56.2,"y":4.47,"v":32},{"x":63.1,"y":4.47,"v":27},{"x":70.8,"y":4.47,"v":25},{"x":79.4,"y":4.47,"v":14},{"x":89.1,"y":4.47,"v":8},{"x":100,"y":4.47,"v":8},{"x":112,"y":4.47,"v":5},{"x":126,"y":4.47,"v":3},{"x":141,"y":4.47,"v":1},
{"x":0.447,"y":3.98,"v":1},{"x":7.08,"y":3.98,"v":3},{"x":7.94,"y":3.98,"v":3},{"x":8.91,"y":3.98,"v":3},{"x":10,"y":3.98,"v":3},{"x":11.2,"y":3.98,"v":3},{"x":12.6,"y":3.98,"v":3},{"x":14.1,"y":3.98,"v":3},{"x":15.8,"y":3.98,"v":2},{"x":17.8,"y":3.98,"v":1},{"x":20,"y":3.98,"v":3},{"x":22.4,"y":3.98,"v":6},{"x":25.1,"y":3.98,"v":10},{"x":28.2,"y":3.98,"v":9},{"x":31.6,"y":3.98,"v":11},{"x":35.5,"y":3.98,"v":18},{"x":39.8,"y":3.98,"v":25},{"x":44.7,"y":3.98,"v":26},{"x":50.1,"y":3.98,"v":27},{"x":56.2,"y":3.98,"v":22},{"x":63.1,"y":3.98,"v":22},{"x":70.8,"y":3.98,"v":18},{"x":79.4,"y":3.98,"v":14},{"x":89.1,"y":3.98,"v":8},{"x":100,"y":3.98,"v":6},{"x":112,"y":3.98,"v":3},{"x":126,"y":3.98,"v":2},
{"x":3.55,"y":3.55,"v":2},{"x":3.98,"y":3.55,"v":2},{"x":4.47,"y":3.55,"v":1},{"x":7.08,"y":3.55,"v":2},{"x":7.94,"y":3.55,"v":4},{"x":8.91,"y":3.55,"v":3},{"x":10,"y":3.55,"v":2},{"x":11.2,"y":3.55,"v":3},{"x":12.6,"y":3.55,"v":3},{"x":14.1,"y":3.55,"v":1},{"x":15.8,"y":3.55,"v":3},{"x":17.8,"y":3.55,"v":2},{"x":20,"y":3.55,"v":2},{"x":22.4,"y":3.55,"v":3},{"x":25.1,"y":3.55,"v":8},{"x":28.2,"y":3.55,"v":10},{"x":31.6,"y":3.55,"v":13},{"x":35.5,"y":3.55,"v":18},{"x":39.8,"y":3.55,"v":22},{"x":44.7,"y":3.55,"v":22},{"x":50.1,"y":3.55,"v":24},{"x":56.2,"y":3.55,"v":24},{"x":63.1,"y":3.55,"v":22},{"x":70.8,"y":3.55,"v":19},{"x":79.4,"y":3.55,"v":13},{"x":89.1,"y":3.55,"v":10},{"x":100,"y":3.55,"v":5},{"x":112,"y":3.55,"v":3},{"x":126,"y":3.55,"v":3},
{"x":0.355,"y":3.16,"v":1},{"x":3.55,"y":3.16,"v":2},{"x":3.98,"y":3.16,"v":2},{"x":4.47,"y":3.16,"v":1},{"x":7.94,"y":3.16,"v":3},{"x":8.91,"y":3.16,"v":3},{"x":10,"y":3.16,"v":2},{"x":11.2,"y":3.16,"v":1},{"x":15.8,"y":3.16,"v":3},{"x":17.8,"y":3.16,"v":2},{"x":20,"y":3.16,"v":2},{"x":22.4,"y":3.16,"v":2},{"x":25.1,"y":3.16,"v":2},{"x":28.2,"y":3.16,"v":7},{"x":31.6,"y":3.16,"v":12},{"x":35.5,"y":3.16,"v":15},{"x":39.8,"y":3.16,"v":19},{"x":44.7,"y":3.16,"v":22},{"x":50.1,"y":3.16,"v":25},{"x":56.2,"y":3.16,"v":25},{"x":63.1,"y":3.16,"v":22},{"x":70.8,"y":3.16,"v":19},{"x":79.4,"y":3.16,"v":13},{"x":89.1,"y":3.16,"v":10},{"x":100,"y":3.16,"v":6},{"x":141,"y":3.16,"v":2},
{"x":7.94,"y":2.82,"v":3},{"x":8.91,"y":2.82,"v":3},{"x":10,"y":2.82,"v":2},{"x":11.2,"y":2.82,"v":2},{"x":15.8,"y":2.82,"v":3},{"x":17.8,"y":2.82,"v":2},{"x":20,"y":2.82,"v":2},{"x":22.4,"y":2.82,"v":2},{"x":25.1,"y":2.82,"v":3},{"x":28.2,"y":2.82,"v":7},{"x":31.6,"y":2.82,"v":10},{"x":35.5,"y":2.82,"v":13},{"x":39.8,"y":2.82,"v":18},{"x":44.7,"y":2.82,"v":22},{"x":50.1,"y":2.82,"v":19},{"x":56.2,"y":2.82,"v":19},{"x":63.1,"y":2.82,"v":22},{"x":70.8,"y":2.82,"v":19},{"x":79.4,"y":2.82,"v":13},{"x":89.1,"y":2.82,"v":8},{"x":100,"y":2.82,"v":5},{"x":141,"y":2.82,"v":2},
{"x":6.31,"y":2.51,"v":3},{"x":7.08,"y":2.51,"v":3},{"x":7.94,"y":2.51,"v":5},{"x":8.91,"y":2.51,"v":5},{"x":10,"y":2.51,"v":2},{"x":14.1,"y":2.51,"v":3},{"x":15.8,"y":2.51,"v":3},{"x":17.8,"y":2.51,"v":2},{"x":20,"y":2.51,"v":2},{"x":22.4,"y":2.51,"v":2},{"x":25.1,"y":2.51,"v":5},{"x":28.2,"y":2.51,"v":7},{"x":31.6,"y":2.51,"v":12},{"x":35.5,"y":2.51,"v":12},{"x":39.8,"y":2.51,"v":18},{"x":44.7,"y":2.51,"v":22},{"x":50.1,"y":2.51,"v":22},{"x":56.2,"y":2.51,"v":22},{"x":63.1,"y":2.51,"v":22},{"x":70.8,"y":2.51,"v":19},{"x":79.4,"y":2.51,"v":13},{"x":89.1,"y":2.51,"v":7},{"x":100,"y":2.51,"v":5},{"x":112,"y":2.51,"v":4},
{"x":5.01,"y":2.24,"v":1},{"x":5.62,"y":2.24,"v":1},{"x":6.31,"y":2.24,"v":3},{"x":7.08,"y":2.24,"v":4},{"x":7.94,"y":2.24,"v":4},{"x":8.91,"y":2.24,"v":3},{"x":10,"y":2.24,"v":2},{"x":14.1,"y":2.24,"v":4},{"x":15.8,"y":2.24,"v":1},{"x":17.8,"y":2.24,"v":1},{"x":20,"y":2.24,"v":2},{"x":22.4,"y":2.24,"v":2},{"x":25.1,"y":2.24,"v":8},{"x":28.2,"y":2.24,"v":8},{"x":31.6,"y":2.24,"v":10},{"x":35.5,"y":2.24,"v":11},{"x":39.8,"y":2.24,"v":15},{"x":44.7,"y":2.24,"v":22},{"x":50.1,"y":2.24,"v":22},{"x":56.2,"y":2.24,"v":22},{"x":63.1,"y":2.24,"v":25},{"x":70.8,"y":2.24,"v":19},{"x":79.4,"y":2.24,"v":13},{"x":89.1,"y":2.24,"v":6},{"x":100,"y":2.24,"v":5},{"x":112,"y":2.24,"v":3},
{"x":5.01,"y":2,"v":3},{"x":5.62,"y":2,"v":3},{"x":6.31,"y":2,"v":2},{"x":7.08,"y":2,"v":4},{"x":7.94,"y":2,"v":4},{"x":8.91,"y":2,"v":3},{"x":10,"y":2,"v":2},{"x":11.2,"y":2,"v":1},{"x":12.6,"y":2,"v":3},{"x":14.1,"y":2,"v":4},{"x":15.8,"y":2,"v":3},{"x":17.8,"y":2,"v":4},{"x":20,"y":2,"v":4},{"x":22.4,"y":2,"v":3},{"x":25.1,"y":2,"v":8},{"x":28.2,"y":2,"v":11},{"x":31.6,"y":2,"v":13},{"x":35.5,"y":2,"v":14},{"x":39.8,"y":2,"v":15},{"x":44.7,"y":2,"v":18},{"x":50.1,"y":2,"v":19},{"x":56.2,"y":2,"v":19},{"x":63.1,"y":2,"v":18},{"x":70.8,"y":2,"v":15},{"x":79.4,"y":2,"v":11},{"x":89.1,"y":2,"v":8},{"x":100,"y":2,"v":5},{"x":112,"y":2,"v":3},{"x":126,"y":2,"v":2},
{"x":2.82,"y":1.78,"v":1},{"x":3.16,"y":1.78,"v":1},{"x":4.47,"y":1.78,"v":1},{"x":5.01,"y":1.78,"v":3},{"x":5.62,"y":1.78,"v":4},{"x":6.31,"y":1.78,"v":2},{"x":7.08,"y":1.78,"v":4},{"x":7.94,"y":1.78,"v":6},{"x":8.91,"y":1.78,"v":3},{"x":10,"y":1.78,"v":3},{"x":11.2,"y":1.78,"v":2},{"x":12.6,"y":1.78,"v":3},{"x":14.1,"y":1.78,"v":4},{"x":15.8,"y":1.78,"v":6},{"x":17.8,"y":1.78,"v":8},{"x":20,"y":1.78,"v":8},{"x":22.4,"y":1.78,"v":8},{"x":25.1,"y":1.78,"v":6},{"x":28.2,"y":1.78,"v":11},{"x":31.6,"y":1.78,"v":18},{"x":35.5,"y":1.78,"v":18},{"x":39.8,"y":1.78,"v":18},{"x":44.7,"y":1.78,"v":15},{"x":50.1,"y":1.78,"v":19},{"x":56.2,"y":1.78,"v":19},{"x":63.1,"y":1.78,"v":14},{"x":70.8,"y":1.78,"v":11},{"x":79.4,"y":1.78,"v":10},{"x":89.1,"y":1.78,"v":10},{"x":100,"y":1.78,"v":7},{"x":112,"y":1.78,"v":3},{"x":126,"y":1.78,"v":2},
{"x":3.16,"y":1.58,"v":1},{"x":4.47,"y":1.58,"v":1},{"x":5.01,"y":1.58,"v":2},{"x":5.62,"y":1.58,"v":4},{"x":6.31,"y":1.58,"v":6},{"x":7.08,"y":1.58,"v":6},{"x":7.94,"y":1.58,"v":5},{"x":8.91,"y":1.58,"v":6},{"x":10,"y":1.58,"v":4},{"x":11.2,"y":1.58,"v":6},{"x":12.6,"y":1.58,"v":6},{"x":14.1,"y":1.58,"v":7},{"x":15.8,"y":1.58,"v":8},{"x":17.8,"y":1.58,"v":8},{"x":20,"y":1.58,"v":10},{"x":22.4,"y":1.58,"v":8},{"x":25.1,"y":1.58,"v":10},{"x":28.2,"y":1.58,"v":8},{"x":31.6,"y":1.58,"v":14},{"x":35.5,"y":1.58,"v":15},{"x":39.8,"y":1.58,"v":18},{"x":44.7,"y":1.58,"v":19},{"x":50.1,"y":1.58,"v":16},{"x":56.2,"y":1.58,"v":18},{"x":63.1,"y":1.58,"v":14},{"x":70.8,"y":1.58,"v":11},{"x":79.4,"y":1.58,"v":7},{"x":89.1,"y":1.58,"v":8},{"x":100,"y":1.58,"v":7},{"x":112,"y":1.58,"v":3},{"x":126,"y":1.58,"v":2},
{"x":3.55,"y":1.41,"v":1},{"x":3.98,"y":1.41,"v":1},{"x":4.47,"y":1.41,"v":2},{"x":5.01,"y":1.41,"v":3},{"x":5.62,"y":1.41,"v":3},{"x":6.31,"y":1.41,"v":8},{"x":7.08,"y":1.41,"v":8},{"x":7.94,"y":1.41,"v":6},{"x":8.91,"y":1.41,"v":8},{"x":10,"y":1.41,"v":7},{"x":11.2,"y":1.41,"v":8},{"x":12.6,"y":1.41,"v":8},{"x":14.1,"y":1.41,"v":8},{"x":15.8,"y":1.41,"v":11},{"x":17.8,"y":1.41,"v":8},{"x":20,"y":1.41,"v":8},{"x":22.4,"y":1.41,"v":10},{"x":25.1,"y":1.41,"v":10},{"x":28.2,"y":1.41,"v":13},{"x":31.6,"y":1.41,"v":12},{"x":35.5,"y":1.41,"v":11},{"x":39.8,"y":1.41,"v":18},{"x":44.7,"y":1.41,"v":19},{"x":50.1,"y":1.41,"v":14},{"x":56.2,"y":1.41,"v":15},{"x":63.1,"y":1.41,"v":14},{"x":70.8,"y":1.41,"v":12},{"x":79.4,"y":1.41,"v":8},{"x":89.1,"y":1.41,"v":6},{"x":100,"y":1.41,"v":6},{"x":112,"y":1.41,"v":3},
{"x":3.98,"y":1.26,"v":1},{"x":4.47,"y":1.26,"v":2},{"x":5.01,"y":1.26,"v":3},{"x":5.62,"y":1.26,"v":6},{"x":6.31,"y":1.26,"v":8},{"x":7.08,"y":1.26,"v":8},{"x":7.94,"y":1.26,"v":8},{"x":8.91,"y":1.26,"v":8},{"x":10,"y":1.26,"v":8},{"x":11.2,"y":1.26,"v":8},{"x":12.6,"y":1.26,"v":8},{"x":14.1,"y":1.26,"v":10},{"x":15.8,"y":1.26,"v":10},{"x":17.8,"y":1.26,"v":6},{"x":20,"y":1.26,"v":8},{"x":22.4,"y":1.26,"v":10},{"x":25.1,"y":1.26,"v":8},{"x":28.2,"y":1.26,"v":14},{"x":31.6,"y":1.26,"v":14},{"x":35.5,"y":1.26,"v":10},{"x":39.8,"y":1.26,"v":15},{"x":44.7,"y":1.26,"v":18},{"x":50.1,"y":1.26,"v":16},{"x":56.2,"y":1.26,"v":15},{"x":63.1,"y":1.26,"v":13},{"x":70.8,"y":1.26,"v":10},{"x":79.4,"y":1.26,"v":8},{"x":89.1,"y":1.26,"v":4},{"x":100,"y":1.26,"v":3},{"x":112,"y":1.26,"v":1},
{"x":3.98,"y":1.12,"v":0.5},{"x":4.47,"y":1.12,"v":1},{"x":5.01,"y":1.12,"v":3},{"x":5.62,"y":1.12,"v":6},{"x":6.31,"y":1.12,"v":11},{"x":7.08,"y":1.12,"v":13},{"x":7.94,"y":1.12,"v":15},{"x":8.91,"y":1.12,"v":11},{"x":10,"y":1.12,"v":8},{"x":11.2,"y":1.12,"v":11},{"x":12.6,"y":1.12,"v":10},{"x":14.1,"y":1.12,"v":12},{"x":15.8,"y":1.12,"v":10},{"x":17.8,"y":1.12,"v":8},{"x":20,"y":1.12,"v":7},{"x":22.4,"y":1.12,"v":6},{"x":25.1,"y":1.12,"v":8},{"x":28.2,"y":1.12,"v":12},{"x":31.6,"y":1.12,"v":12},{"x":35.5,"y":1.12,"v":10},{"x":39.8,"y":1.12,"v":15},{"x":44.7,"y":1.12,"v":19},{"x":50.1,"y":1.12,"v":16},{"x":56.2,"y":1.12,"v":14},{"x":63.1,"y":1.12,"v":12},{"x":70.8,"y":1.12,"v":8},{"x":79.4,"y":1.12,"v":6},{"x":89.1,"y":1.12,"v":3},{"x":100,"y":1.12,"v":2},{"x":141,"y":1.12,"v":1},
{"x":3.16,"y":1,"v":1},{"x":3.55,"y":1,"v":1},{"x":3.98,"y":1,"v":2},{"x":4.47,"y":1,"v":3},{"x":5.01,"y":1,"v":6},{"x":5.62,"y":1,"v":6},{"x":6.31,"y":1,"v":8},{"x":7.08,"y":1,"v":13},{"x":7.94,"y":1,"v":15},{"x":8.91,"y":1,"v":12},{"x":10,"y":1,"v":8},{"x":11.2,"y":1,"v":12},{"x":12.6,"y":1,"v":13},{"x":14.1,"y":1,"v":11},{"x":15.8,"y":1,"v":8},{"x":17.8,"y":1,"v":8},{"x":20,"y":1,"v":8},{"x":22.4,"y":1,"v":6},{"x":25.1,"y":1,"v":7},{"x":28.2,"y":1,"v":8},{"x":31.6,"y":1,"v":9},{"x":35.5,"y":1,"v":8},{"x":39.8,"y":1,"v":12},{"x":44.7,"y":1,"v":13},{"x":50.1,"y":1,"v":14},{"x":56.2,"y":1,"v":13},{"x":63.1,"y":1,"v":11},{"x":70.8,"y":1,"v":7},{"x":79.4,"y":1,"v":6},{"x":89.1,"y":1,"v":3},{"x":100,"y":1,"v":3},
{"x":3.16,"y":0.891,"v":0.5},{"x":3.55,"y":0.891,"v":1},{"x":3.98,"y":0.891,"v":3},{"x":4.47,"y":0.891,"v":4},{"x":5.01,"y":0.891,"v":5},{"x":5.62,"y":0.891,"v":5},{"x":6.31,"y":0.891,"v":8},{"x":7.08,"y":0.891,"v":13},{"x":7.94,"y":0.891,"v":14},{"x":8.91,"y":0.891,"v":12},{"x":10,"y":0.891,"v":12},{"x":11.2,"y":0.891,"v":11},{"x":12.6,"y":0.891,"v":10},{"x":14.1,"y":0.891,"v":10},{"x":15.8,"y":0.891,"v":11},{"x":17.8,"y":0.891,"v":8},{"x":20,"y":0.891,"v":7},{"x":22.4,"y":0.891,"v":8},{"x":25.1,"y":0.891,"v":10},{"x":28.2,"y":0.891,"v":8},{"x":31.6,"y":0.891,"v":8},{"x":35.5,"y":0.891,"v":8},{"x":39.8,"y":0.891,"v":8},{"x":44.7,"y":0.891,"v":10},{"x":50.1,"y":0.891,"v":13},{"x":56.2,"y":0.891,"v":14},{"x":63.1,"y":0.891,"v":10},{"x":70.8,"y":0.891,"v":6},{"x":79.4,"y":0.891,"v":5},{"x":89.1,"y":0.891,"v":4},{"x":100,"y":0.891,"v":3},{"x":112,"y":0.891,"v":1},
{"x":3.16,"y":0.794,"v":0.5},{"x":5.01,"y":0.794,"v":3},{"x":5.62,"y":0.794,"v":6},{"x":6.31,"y":0.794,"v":8},{"x":7.08,"y":0.794,"v":12},{"x":7.94,"y":0.794,"v":12},{"x":8.91,"y":0.794,"v":13},{"x":10,"y":0.794,"v":13},{"x":11.2,"y":0.794,"v":11},{"x":12.6,"y":0.794,"v":14},{"x":14.1,"y":0.794,"v":15},{"x":15.8,"y":0.794,"v":12},{"x":17.8,"y":0.794,"v":8},{"x":20,"y":0.794,"v":8},{"x":22.4,"y":0.794,"v":10},{"x":25.1,"y":0.794,"v":10},{"x":28.2,"y":0.794,"v":8},{"x":31.6,"y":0.794,"v":7},{"x":35.5,"y":0.794,"v":7},{"x":39.8,"y":0.794,"v":11},{"x":44.7,"y":0.794,"v":12},{"x":50.1,"y":0.794,"v":12},{"x":56.2,"y":0.794,"v":8},{"x":63.1,"y":0.794,"v":7},{"x":70.8,"y":0.794,"v":4},{"x":79.4,"y":0.794,"v":3},{"x":89.1,"y":0.794,"v":3},{"x":100,"y":0.794,"v":3},
{"x":5.01,"y":0.708,"v":3},{"x":5.62,"y":0.708,"v":5},{"x":6.31,"y":0.708,"v":10},{"x":7.08,"y":0.708,"v":13},{"x":7.94,"y":0.708,"v":11},{"x":8.91,"y":0.708,"v":15},{"x":10,"y":0.708,"v":15},{"x":11.2,"y":0.708,"v":10},{"x":12.6,"y":0.708,"v":13},{"x":14.1,"y":0.708,"v":15},{"x":15.8,"y":0.708,"v":13},{"x":17.8,"y":0.708,"v":6},{"x":20,"y":0.708,"v":6},{"x":22.4,"y":0.708,"v":6},{"x":25.1,"y":0.708,"v":6},{"x":28.2,"y":0.708,"v":6},{"x":31.6,"y":0.708,"v":5},{"x":35.5,"y":0.708,"v":5},{"x":39.8,"y":0.708,"v":8},{"x":44.7,"y":0.708,"v":8},{"x":50.1,"y":0.708,"v":8},{"x":56.2,"y":0.708,"v":7},{"x":63.1,"y":0.708,"v":4},{"x":70.8,"y":0.708,"v":3},{"x":79.4,"y":0.708,"v":3},{"x":89.1,"y":0.708,"v":2},
{"x":4.47,"y":0.631,"v":1},{"x":5.01,"y":0.631,"v":3},{"x":5.62,"y":0.631,"v":5},{"x":6.31,"y":0.631,"v":7},{"x":7.08,"y":0.631,"v":11},{"x":7.94,"y":0.631,"v":15},{"x":8.91,"y":0.631,"v":15},{"x":10,"y":0.631,"v":15},{"x":11.2,"y":0.631,"v":15},{"x":12.6,"y":0.631,"v":15},{"x":14.1,"y":0.631,"v":13},{"x":15.8,"y":0.631,"v":12},{"x":17.8,"y":0.631,"v":8},{"x":20,"y":0.631,"v":7},{"x":22.4,"y":0.631,"v":7},{"x":25.1,"y":0.631,"v":6},{"x":28.2,"y":0.631,"v":6},{"x":31.6,"y":0.631,"v":4},{"x":35.5,"y":0.631,"v":5},{"x":39.8,"y":0.631,"v":7},{"x":44.7,"y":0.631,"v":7},{"x":50.1,"y":0.631,"v":8},{"x":56.2,"y":0.631,"v":7},{"x":63.1,"y":0.631,"v":4},{"x":70.8,"y":0.631,"v":3},{"x":79.4,"y":0.631,"v":3},{"x":89.1,"y":0.631,"v":2},
{"x":4.47,"y":0.562,"v":2},{"x":5.01,"y":0.562,"v":3},{"x":5.62,"y":0.562,"v":6},{"x":6.31,"y":0.562,"v":5},{"x":7.08,"y":0.562,"v":8},{"x":7.94,"y":0.562,"v":13},{"x":8.91,"y":0.562,"v":15},{"x":10,"y":0.562,"v":15},{"x":11.2,"y":0.562,"v":15},{"x":12.6,"y":0.562,"v":18},{"x":14.1,"y":0.562,"v":15},{"x":15.8,"y":0.562,"v":12},{"x":17.8,"y":0.562,"v":8},{"x":20,"y":0.562,"v":7},{"x":22.4,"y":0.562,"v":8},{"x":25.1,"y":0.562,"v":10},{"x":28.2,"y":0.562,"v":7},{"x":31.6,"y":0.562,"v":5},{"x":35.5,"y":0.562,"v":8},{"x":39.8,"y":0.562,"v":7},{"x":44.7,"y":0.562,"v":8},{"x":50.1,"y":0.562,"v":7},{"x":56.2,"y":0.562,"v":4},{"x":63.1,"y":0.562,"v":3},{"x":70.8,"y":0.562,"v":5},{"x":79.4,"y":0.562,"v":5},{"x":89.1,"y":0.562,"v":1},
{"x":3.55,"y":0.501,"v":1},{"x":3.98,"y":0.501,"v":1},{"x":4.47,"y":0.501,"v":1},{"x":5.01,"y":0.501,"v":2},{"x":5.62,"y":0.501,"v":4},{"x":6.31,"y":0.501,"v":5},{"x":7.08,"y":0.501,"v":6},{"x":7.94,"y":0.501,"v":10},{"x":8.91,"y":0.501,"v":19},{"x":10,"y":0.501,"v":19},{"x":11.2,"y":0.501,"v":14},{"x":12.6,"y":0.501,"v":15},{"x":14.1,"y":0.501,"v":15},{"x":15.8,"y":0.501,"v":11},{"x":17.8,"y":0.501,"v":10},{"x":20,"y":0.501,"v":8},{"x":22.4,"y":0.501,"v":6},{"x":25.1,"y":0.501,"v":10},{"x":28.2,"y":0.501,"v":10},{"x":31.6,"y":0.501,"v":7},{"x":35.5,"y":0.501,"v":10},{"x":39.8,"y":0.501,"v":6},{"x":44.7,"y":0.501,"v":7},{"x":50.1,"y":0.501,"v":6},{"x":56.2,"y":0.501,"v":3},{"x":63.1,"y":0.501,"v":3},{"x":70.8,"y":0.501,"v":4},
{"x":4.47,"y":0.447,"v":1},{"x":5.01,"y":0.447,"v":1},{"x":5.62,"y":0.447,"v":3},{"x":6.31,"y":0.447,"v":8},{"x":7.08,"y":0.447,"v":7},{"x":7.94,"y":0.447,"v":10},{"x":8.91,"y":0.447,"v":22},{"x":10,"y":0.447,"v":22},{"x":11.2,"y":0.447,"v":19},{"x":12.6,"y":0.447,"v":19},{"x":14.1,"y":0.447,"v":13},{"x":15.8,"y":0.447,"v":11},{"x":17.8,"y":0.447,"v":11},{"x":20,"y":0.447,"v":8},{"x":22.4,"y":0.447,"v":3},{"x":25.1,"y":0.447,"v":4},{"x":28.2,"y":0.447,"v":5},{"x":31.6,"y":0.447,"v":5},{"x":35.5,"y":0.447,"v":10},{"x":39.8,"y":0.447,"v":11},{"x":44.7,"y":0.447,"v":8},{"x":50.1,"y":0.447,"v":5},{"x":56.2,"y":0.447,"v":3},{"x":63.1,"y":0.447,"v":5},{"x":70.8,"y":0.447,"v":3},
{"x":6.31,"y":0.398,"v":8},{"x":7.08,"y":0.398,"v":7},{"x":7.94,"y":0.398,"v":11},{"x":8.91,"y":0.398,"v":15},{"x":10,"y":0.398,"v":15},{"x":11.2,"y":0.398,"v":19},{"x":12.6,"y":0.398,"v":19},{"x":14.1,"y":0.398,"v":13},{"x":15.8,"y":0.398,"v":12},{"x":17.8,"y":0.398,"v":10},{"x":20,"y":0.398,"v":11},{"x":22.4,"y":0.398,"v":8},{"x":25.1,"y":0.398,"v":3},{"x":28.2,"y":0.398,"v":3},{"x":31.6,"y":0.398,"v":6},{"x":35.5,"y":0.398,"v":6},{"x":39.8,"y":0.398,"v":6},{"x":44.7,"y":0.398,"v":4},{"x":50.1,"y":0.398,"v":3},{"x":56.2,"y":0.398,"v":3},{"x":63.1,"y":0.398,"v":3},{"x":70.8,"y":0.398,"v":1},
{"x":6.31,"y":0.355,"v":5},{"x":7.08,"y":0.355,"v":6},{"x":7.94,"y":0.355,"v":11},{"x":8.91,"y":0.355,"v":13},{"x":10,"y":0.355,"v":13},{"x":11.2,"y":0.355,"v":12},{"x":12.6,"y":0.355,"v":15},{"x":14.1,"y":0.355,"v":12},{"x":15.8,"y":0.355,"v":10},{"x":17.8,"y":0.355,"v":5},{"x":20,"y":0.355,"v":5},{"x":22.4,"y":0.355,"v":5},{"x":25.1,"y":0.355,"v":3},{"x":28.2,"y":0.355,"v":3},{"x":31.6,"y":0.355,"v":5},{"x":35.5,"y":0.355,"v":3},{"x":39.8,"y":0.355,"v":3},{"x":44.7,"y":0.355,"v":4},{"x":50.1,"y":0.355,"v":3},{"x":56.2,"y":0.355,"v":3},{"x":63.1,"y":0.355,"v":3},{"x":70.8,"y":0.355,"v":0.5},
{"x":5.62,"y":0.316,"v":2},{"x":6.31,"y":0.316,"v":2},{"x":7.08,"y":0.316,"v":5},{"x":7.94,"y":0.316,"v":12},{"x":8.91,"y":0.316,"v":15},{"x":10,"y":0.316,"v":15},{"x":11.2,"y":0.316,"v":10},{"x":12.6,"y":0.316,"v":10},{"x":14.1,"y":0.316,"v":12},{"x":15.8,"y":0.316,"v":7},{"x":17.8,"y":0.316,"v":5},{"x":20,"y":0.316,"v":4},{"x":22.4,"y":0.316,"v":3},{"x":25.1,"y":0.316,"v":3},{"x":28.2,"y":0.316,"v":4},{"x":31.6,"y":0.316,"v":5},{"x":35.5,"y":0.316,"v":3},{"x":39.8,"y":0.316,"v":3},{"x":44.7,"y":0.316,"v":3},{"x":50.1,"y":0.316,"v":3},
{"x":5.62,"y":0.282,"v":2},{"x":6.31,"y":0.282,"v":2},{"x":7.08,"y":0.282,"v":5},{"x":7.94,"y":0.282,"v":6},{"x":8.91,"y":0.282,"v":10},{"x":10,"y":0.282,"v":18},{"x":11.2,"y":0.282,"v":18},{"x":12.6,"y":0.282,"v":10},{"x":14.1,"y":0.282,"v":10},{"x":15.8,"y":0.282,"v":7},{"x":17.8,"y":0.282,"v":5},{"x":20,"y":0.282,"v":4},{"x":22.4,"y":0.282,"v":3},{"x":25.1,"y":0.282,"v":3},{"x":28.2,"y":0.282,"v":4},{"x":31.6,"y":0.282,"v":5},{"x":35.5,"y":0.282,"v":1},{"x":39.8,"y":0.282,"v":1},{"x":44.7,"y":0.282,"v":3},{"x":50.1,"y":0.282,"v":1},
{"x":5.62,"y":0.251,"v":1},{"x":6.31,"y":0.251,"v":2},{"x":7.08,"y":0.251,"v":4},{"x":7.94,"y":0.251,"v":5},{"x":8.91,"y":0.251,"v":8},{"x":10,"y":0.251,"v":15},{"x":11.2,"y":0.251,"v":15},{"x":12.6,"y":0.251,"v":8},{"x":14.1,"y":0.251,"v":7},{"x":15.8,"y":0.251,"v":7},{"x":17.8,"y":0.251,"v":4},{"x":20,"y":0.251,"v":4},{"x":22.4,"y":0.251,"v":3},{"x":25.1,"y":0.251,"v":1},{"x":28.2,"y":0.251,"v":3},{"x":39.8,"y":0.251,"v":2},{"x":44.7,"y":0.251,"v":3},
{"x":5.62,"y":0.224,"v":0.5},{"x":6.31,"y":0.224,"v":1},{"x":7.08,"y":0.224,"v":3},{"x":7.94,"y":0.224,"v":5},{"x":8.91,"y":0.224,"v":8},{"x":10,"y":0.224,"v":11},{"x":11.2,"y":0.224,"v":10},{"x":12.6,"y":0.224,"v":7},{"x":14.1,"y":0.224,"v":4},{"x":15.8,"y":0.224,"v":4},{"x":17.8,"y":0.224,"v":3},{"x":25.1,"y":0.224,"v":1},{"x":28.2,"y":0.224,"v":2},{"x":39.8,"y":0.224,"v":3},
{"x":6.31,"y":0.2,"v":2},{"x":7.08,"y":0.2,"v":3},{"x":7.94,"y":0.2,"v":4},{"x":8.91,"y":0.2,"v":8},{"x":10,"y":0.2,"v":13},{"x":11.2,"y":0.2,"v":10},{"x":12.6,"y":0.2,"v":7},{"x":14.1,"y":0.2,"v":4},{"x":15.8,"y":0.2,"v":3},{"x":17.8,"y":0.2,"v":3},{"x":31.6,"y":0.2,"v":2},{"x":35.5,"y":0.2,"v":2},{"x":39.8,"y":0.2,"v":2},
{"x":6.31,"y":0.178,"v":1},{"x":11.2,"y":0.178,"v":8},{"x":12.6,"y":0.178,"v":6},{"x":14.1,"y":0.178,"v":3},{"x":15.8,"y":0.178,"v":2},{"x":17.8,"y":0.178,"v":2},{"x":20,"y":0.178,"v":2},{"x":22.4,"y":0.178,"v":2},{"x":35.5,"y":0.178,"v":1},
{"x":6.31,"y":0.158,"v":1},{"x":11.2,"y":0.158,"v":5},{"x":12.6,"y":0.158,"v":4},{"x":14.1,"y":0.158,"v":3},{"x":15.8,"y":0.158,"v":1},{"x":17.8,"y":0.158,"v":1},{"x":20,"y":0.158,"v":2},{"x":22.4,"y":0.158,"v":2},{"x":25.1,"y":0.158,"v":1},{"x":56.2,"y":0.158,"v":1},
{"x":7.08,"y":0.141,"v":2},{"x":7.94,"y":0.141,"v":3},{"x":8.91,"y":0.141,"v":5},{"x":10,"y":0.141,"v":6},{"x":11.2,"y":0.141,"v":5},{"x":12.6,"y":0.141,"v":4},{"x":14.1,"y":0.141,"v":2},{"x":15.8,"y":0.141,"v":1},{"x":17.8,"y":0.141,"v":1},{"x":25.1,"y":0.141,"v":3},{"x":39.8,"y":0.141,"v":0.5},{"x":56.2,"y":0.141,"v":1},
{"x":7.08,"y":0.126,"v":2},{"x":7.94,"y":0.126,"v":2},{"x":8.91,"y":0.126,"v":1},{"x":10,"y":0.126,"v":3},{"x":11.2,"y":0.126,"v":3},{"x":12.6,"y":0.126,"v":3},{"x":14.1,"y":0.126,"v":3},{"x":15.8,"y":0.126,"v":1},
{"x":7.94,"y":0.112,"v":1},{"x":8.91,"y":0.112,"v":1},{"x":10,"y":0.112,"v":2},{"x":14.1,"y":0.112,"v":3},{"x":15.8,"y":0.112,"v":1},
{"x":7.94,"y":0.1,"v":0.5},{"x":14.1,"y":0.1,"v":1},
{"x":7.94,"y":0.0891,"v":0.5},{"x":11.2,"y":0.0891,"v":3},{"x":12.6,"y":0.0891,"v":2},{"x":14.1,"y":0.0891,"v":0.5},
{"x":7.94,"y":0.0794,"v":0.5},{"x":8.91,"y":0.0794,"v":2},{"x":10,"y":0.0794,"v":3},{"x":11.2,"y":0.0794,"v":3},{"x":12.6,"y":0.0794,"v":3},{"x":14.1,"y":0.0794,"v":0.5},
{"x":7.94,"y":0.0708,"v":0.5},{"x":8.91,"y":0.0708,"v":1},
{"x":10,"y":0.0562,"v":2},{"x":11.2,"y":0.0562,"v":2}
],"dec_x":[{"t":0.1},{"t":1},{"t":10},{"t":100},{"t":1000},{"t":10000}],"dec_y":[{"t":0.001},{"t":0.01},{"t":0.1},{"t":1},{"t":10},{"t":100}],"min_x":[{"t":0.2},{"t":0.5},{"t":0.8},{"t":2},{"t":5},{"t":8},{"t":20},{"t":50},{"t":80},{"t":200},{"t":500},{"t":800},{"t":2000},{"t":5000},{"t":8000}],"min_y":[{"t":0.002},{"t":0.005},{"t":0.008},{"t":0.02},{"t":0.05},{"t":0.08},{"t":0.2},{"t":0.5},{"t":0.8},{"t":2},{"t":5},{"t":8},{"t":20},{"t":50},{"t":80}],"bar_ticks":[{"t":20},{"t":40},{"t":60},{"t":80}],"bar":[{"a":0,"b":3},{"a":2,"b":5},{"a":4,"b":7},{"a":6,"b":9},{"a":8,"b":11},{"a":10,"b":13},{"a":12,"b":15},{"a":14,"b":17},{"a":16,"b":19},{"a":18,"b":21},{"a":20,"b":23},{"a":22,"b":25},{"a":24,"b":27},{"a":26,"b":29},{"a":28,"b":31},{"a":30,"b":33},{"a":32,"b":35},{"a":34,"b":37},{"a":36,"b":39},{"a":38,"b":41},{"a":40,"b":43},{"a":42,"b":45},{"a":44,"b":47},{"a":46,"b":49},{"a":48,"b":51},{"a":50,"b":53},{"a":52,"b":55},{"a":54,"b":57},{"a":56,"b":59},{"a":58,"b":61},{"a":60,"b":63},{"a":62,"b":65},{"a":64,"b":67},{"a":66,"b":69},{"a":68,"b":71},{"a":70,"b":73},{"a":72,"b":75},{"a":74,"b":77},{"a":76,"b":79},{"a":78,"b":81},{"a":80,"b":83},{"a":82,"b":85},{"a":84,"b":87},{"a":86,"b":89},{"a":88,"b":91},{"a":90,"b":93},{"a":92,"b":95},{"a":94,"b":97},{"a":96,"b":99},{"a":98,"b":100}]},"hconcat":[{"width":1130,"height":816.5,"layer":[{"data":{"name":"cells"},"mark":{"type":"rect","width":12,"height":8.8},"encoding":{"x":{"field":"x","type":"quantitative","scale":{"type":"log","domain":[0.1,10000],"nice":false},"axis":{"orient":"bottom","values":[0.1,0.2,0.5,0.8,1,2,5,8,10,20,50,80,100,200,500,800,1000,2000,5000,8000,10000],"labelFlush":false,"labelExpr":"indexof([0.1,1,10,100,1000,10000],datum.value)>=0 ? ''+datum.value : ''","tickSize":{"condition":{"test":"indexof([0.1,1,10,100,1000,10000],datum.value)>=0","value":-17},"value":-8},"labelPadding":36,"title":"diff_sn_rp / mops_sn","titlePadding":16}},"y":{"field":"y","type":"quantitative","scale":{"type":"log","domain":[0.001,100],"nice":false},"axis":{"orient":"left","values":[0.001,0.002,0.005,0.008,0.01,0.02,0.05,0.08,0.1,0.2,0.5,0.8,1,2,5,8,10,20,50,80,100],"labelFlush":false,"labelExpr":"indexof([0.001,0.01,0.1,1,10,100],datum.value)>=0 ? ''+datum.value : ''","tickSize":{"condition":{"test":"indexof([0.001,0.01,0.1,1,10,100],datum.value)>=0","value":-17},"value":-8},"labelPadding":37,"title":"diff_rp","titlePadding":19}},"color":{"field":"v","type":"quantitative","legend":null,"scale":{"domain":[0,5,10,15,20,25,30,35,40,45,50,55,60,65,70,75,80,85,90,95,100],"range":["#000000","#39004f","#510096","#6301ce","#7202f3","#8004ff","#8c07f3","#970bce","#a11096","#ab174f","#b42000","#bd2a00","#c63700","#ce4600","#d55700","#dd6c00","#e48300","#eb9d00","#f2ba00","#f9db00","#ffff00"]}}}},{"data":{"name":"dec_x"},"mark":{"type":"tick","orient":"vertical","size":34,"thickness":1.2,"clip":true,"color":"black"},"encoding":{"x":{"field":"t","type":"quantitative"},"y":{"datum":100,"type":"quantitative"}}},{"data":{"name":"min_x"},"mark":{"type":"tick","orient":"vertical","size":16,"thickness":1.2,"clip":true,"color":"black"},"encoding":{"x":{"field":"t","type":"quantitative"},"y":{"datum":100,"type":"quantitative"}}},{"data":{"name":"dec_y"},"mark":{"type":"tick","orient":"horizontal","size":34,"thickness":1.2,"clip":true,"color":"black"},"encoding":{"y":{"field":"t","type":"quantitative"},"x":{"datum":10000,"type":"quantitative"}}},{"data":{"name":"min_y"},"mark":{"type":"tick","orient":"horizontal","size":16,"thickness":1.2,"clip":true,"color":"black"},"encoding":{"y":{"field":"t","type":"quantitative"},"x":{"datum":10000,"type":"quantitative"}}}]},{"width":57,"height":816.5,"layer":[{"data":{"name":"bar"},"mark":{"type":"rect"},"encoding":{"y":{"field":"a","type":"quantitative","scale":{"domain":[0,100],"nice":false},"axis":{"orient":"right","values":[0,20,40,60,80,100],"tickSize":-13,"tickColor":"#222222","labelPadding":32,"title":null,"zindex":1}},"y2":{"field":"b"},"color":{"field":"b","type":"quantitative","legend":null,"scale":{"domain":[0,5,10,15,20,25,30,35,40,45,50,55,60,65,70,75,80,85,90,95,100],"range":["#000000","#39004f","#510096","#6301ce","#7202f3","#8004ff","#8c07f3","#970bce","#a11096","#ab174f","#b42000","#bd2a00","#c63700","#ce4600","#d55700","#dd6c00","#e48300","#eb9d00","#f2ba00","#f9db00","#ffff00"]}}}},{"data":{"name":"bar_ticks"},"mark":{"type":"tick","orient":"horizontal","size":26,"thickness":1.2,"clip":true,"color":"#222222"},"encoding":{"y":{"field":"t","type":"quantitative"},"x":{"value":0}}}]}],"spacing":28,"config":{"font":"Liberation Sans","view":{"stroke":"black","strokeWidth":1.5},"axis":{"grid":false,"domain":false,"ticks":true,"tickColor":"black","tickWidth":1.2,"labelFont":"Liberation Sans","labelFontSize":21,"labelColor":"black","titleFont":"Liberation Sans","titleFontSize":21.4,"titleFontWeight":"normal","titleColor":"black"}}}
